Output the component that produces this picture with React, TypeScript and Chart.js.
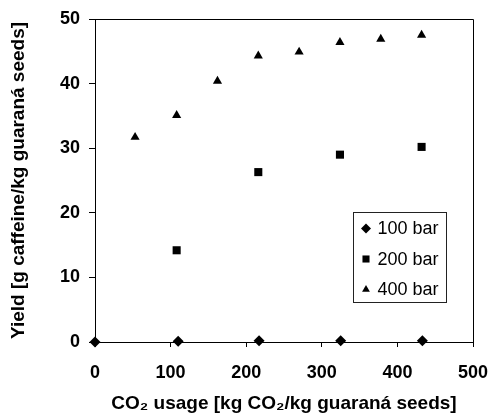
import React, { useEffect, useRef } from "react";
import { Chart, registerables } from "chart.js";

Chart.register(...registerables);

const seriesLabels = ["100 bar", "200 bar", "400 bar"];

const x100 = [0, 110, 217, 325, 433];
const y100 = [0, 0.1, 0.2, 0.2, 0.2];

const x200 = [108, 216, 324, 432];
const y200 = [14.2, 26.3, 29.0, 30.2];

const x400 = [53, 108, 162, 216, 270, 324, 378, 432];
const y400 = [31.7, 35.1, 40.4, 44.3, 44.9, 46.4, 46.9, 47.5];

const xTitle = "CO\u2082 usage [kg CO\u2082/kg guaran\u00e1 seeds]";
const yTitle = "Yield [g caffeine/kg guaran\u00e1 seeds]";

const FONT = "'Liberation Sans', Arial, sans-serif";

const toPoints = (xs: number[], ys: number[]) => xs.map((x, i) => ({ x, y: ys[i] }));

const framePlugin = {
  id: "frame",
  afterDraw(chart: any) {
    const { ctx, chartArea } = chart;
    ctx.save();
    ctx.strokeStyle = "#000";
    ctx.lineWidth = 1;
    ctx.beginPath();
    ctx.moveTo(chartArea.left, chartArea.top + 0.5);
    ctx.lineTo(chartArea.right + 0.5, chartArea.top + 0.5);
    ctx.lineTo(chartArea.right + 0.5, chartArea.bottom);
    ctx.stroke();
    ctx.restore();
  },
};

function drawMarker(ctx: CanvasRenderingContext2D, style: string, x: number, y: number, r: number) {
  ctx.beginPath();
  if (style === "rectRot") {
    ctx.moveTo(x, y - r);
    ctx.lineTo(x + r, y);
    ctx.lineTo(x, y + r);
    ctx.lineTo(x - r, y);
  } else if (style === "rect") {
    const s = r * Math.SQRT1_2;
    ctx.rect(x - s, y - s, 2 * s, 2 * s);
  } else {
    const h = r * 0.866;
    ctx.moveTo(x, y - r);
    ctx.lineTo(x + h, y + r / 2);
    ctx.lineTo(x - h, y + r / 2);
  }
  ctx.closePath();
  ctx.fill();
}

const legendPlugin = {
  id: "insideLegend",
  afterDraw(chart: any) {
    const { ctx, chartArea } = chart;
    const left = chartArea.right - 119.5;
    const top = chartArea.top + 193.5;
    const w = 93;
    const h = 90;
    ctx.save();
    ctx.fillStyle = "#fff";
    ctx.fillRect(left, top, w, h);
    ctx.strokeStyle = "#222";
    ctx.lineWidth = 1;
    ctx.strokeRect(left, top, w, h);
    ctx.font = "18px " + FONT;
    ctx.textBaseline = "middle";
    ctx.textAlign = "left";
    chart.data.datasets.forEach((ds: any, i: number) => {
      const cy = top + 16 + i * 30.5;
      ctx.fillStyle = "#000";
      const st = ds.pointStyle;
      const r = st === "rectRot" ? 5 : st === "rect" ? 5 : 4.5;
      drawMarker(ctx, st, left + 12.5, cy, r);
      ctx.fillText(ds.label, left + 24, cy + 1);
    });
    ctx.restore();
  },
};

export default function App() {
  const ref = useRef<HTMLCanvasElement | null>(null);

  useEffect(() => {
    if (!ref.current) return;
    const chart = new Chart(ref.current, {
      type: "scatter",
      data: {
        datasets: [
          {
            label: seriesLabels[0],
            data: toPoints(x100, y100),
            pointStyle: "rectRot",
            pointRadius: 5.5,
            backgroundColor: "#000",
            borderColor: "#000",
            borderWidth: 0,
            clip: false,
          },
          {
            label: seriesLabels[1],
            data: toPoints(x200, y200),
            pointStyle: "rect",
            pointRadius: 5.7,
            backgroundColor: "#000",
            borderColor: "#000",
            borderWidth: 0,
            clip: false,
          },
          {
            label: seriesLabels[2],
            data: toPoints(x400, y400),
            pointStyle: "triangle",
            pointRadius: 5.3,
            backgroundColor: "#000",
            borderColor: "#000",
            borderWidth: 0,
            clip: false,
          },
        ],
      },
      options: {
        responsive: false,
        animation: false,
        layout: { padding: { top: 19, right: 19, left: 0, bottom: 0 } },
        plugins: {
          legend: { display: false },
          tooltip: { enabled: false },
        },
        scales: {
          x: {
            type: "linear",
            min: 0,
            max: 500,
            afterFit(scale: any) {
              scale.height = 78;
              scale.paddingLeft = 0;
              scale.paddingRight = 0;
            },
            ticks: {
              stepSize: 100,
              color: "#000",
              padding: 15,
              font: { family: FONT, size: 18, weight: "bold" },
              maxRotation: 0,
            },
            grid: {
              drawOnChartArea: false,
              drawTicks: true,
              tickLength: 5,
              color: "#000",
            },
            border: { color: "#000", width: 1 },
            title: {
              display: true,
              text: xTitle,
              color: "#000",
              font: { family: FONT, size: 19, weight: "bold" },
              padding: { top: 0, bottom: 5 },
            },
          },
          y: {
            type: "linear",
            min: 0,
            max: 50,
            afterFit(scale: any) {
              scale.width = 95;
              scale.paddingTop = 0;
              scale.paddingBottom = 0;
            },
            ticks: {
              stepSize: 10,
              color: "#000",
              padding: 9,
              font: { family: FONT, size: 18, weight: "bold" },
            },
            grid: {
              drawOnChartArea: false,
              drawTicks: true,
              tickLength: 6,
              color: "#000",
            },
            border: { color: "#000", width: 1 },
            title: {
              display: true,
              text: yTitle,
              color: "#000",
              font: { family: FONT, size: 19, weight: "bold" },
              padding: { top: 7, bottom: 0 },
            },
          },
        },
      },
      plugins: [framePlugin, legendPlugin],
    } as any);
    return () => chart.destroy();
  }, []);

  return (
    <div style={{ position: "fixed", left: 0, top: 0, width: 492, height: 420, background: "#fff" }}>
      <canvas ref={ref} width={492} height={420} style={{ width: 492, height: 420, display: "block" }} />
    </div>
  );
}
